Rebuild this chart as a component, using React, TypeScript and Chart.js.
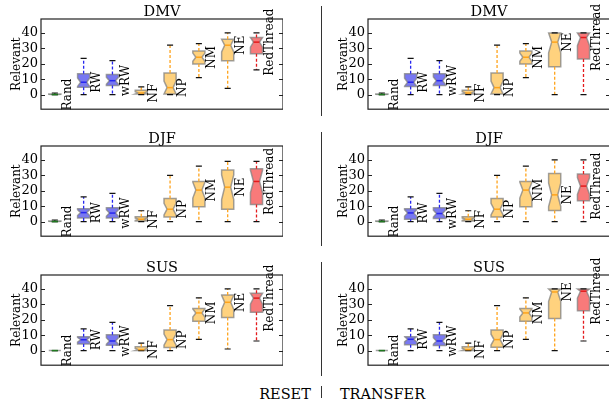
import React, { useEffect, useRef } from "react";
import { Chart, registerables } from "chart.js";
Chart.register(...registerables);

const FONT = '"DejaVu Serif", serif';

const categories = ["Rand", "RW", "wRW", "NF", "NP", "NM", "NE", "RedThread"];
const yTicks = [0, 10, 20, 30, 40];

// each entry: [min, q1, median, q3, max]
const dmvReset = [
  [0, 0, 0, 0.3, 1],
  [0, 4.8, 8, 13.5, 23.5],
  [0, 5.8, 9, 13, 22],
  [0, 0.3, 1, 2.8, 5],
  [0, 0.4, 4.5, 14, 32],
  [11, 19.8, 24.2, 28.3, 33],
  [4, 22, 32, 35.8, 40],
  [16, 26.5, 34, 37, 40],
];
const dmvTransfer = [
  [0, 0, 0, 0.3, 1],
  [0, 5.2, 8, 13.5, 23.5],
  [0, 5.8, 9, 13.5, 22],
  [0, 0.3, 1, 2.8, 5],
  [0, 0.4, 4.5, 14, 32],
  [11, 19.8, 24.2, 28.3, 33],
  [0, 18, 34, 40, 40],
  [0, 23, 37, 40, 40],
];
const djfReset = [
  [0, 0, 0, 0.3, 1],
  [0, 2.3, 5.8, 8.3, 16],
  [0, 2.3, 5.5, 9, 18.3],
  [0, 0.4, 1.5, 3.1, 7],
  [0, 3, 8, 15, 30],
  [0, 9.6, 20.4, 26, 36],
  [0, 8, 22.3, 33.5, 39],
  [0, 11, 26, 34.2, 39],
];
const djfTransfer = [
  [0, 0, 0, 0.3, 1],
  [0, 1.5, 5.6, 8.3, 16],
  [0, 2, 5.2, 9, 18.3],
  [0, 0.4, 1.5, 3.1, 7],
  [0, 3, 8, 15, 30],
  [0, 9.6, 20.4, 26, 36],
  [0, 7.1, 17.3, 31.2, 40],
  [0, 13.5, 23, 30.8, 40],
];
const susReset = [
  [0, 0, 0, 0, 0],
  [0, 4.2, 7, 9, 14],
  [0, 3.5, 6.2, 10.2, 18.3],
  [0, 0, 0.6, 2.5, 4.8],
  [0, 1.9, 7.1, 13.3, 29.2],
  [7.3, 19, 24.4, 27.3, 34.2],
  [1, 21.5, 31.3, 36, 40],
  [6.2, 24.8, 34, 37.1, 40],
];
const susTransfer = [
  [0, 0, 0, 0, 0],
  [0, 3.7, 7.3, 9, 14],
  [0, 3.3, 6.2, 10.2, 18.3],
  [0, 0, 0.6, 2.5, 4.8],
  [0, 2.1, 7.1, 13.3, 29.2],
  [7.3, 19, 24.4, 27.3, 34.2],
  [0, 20.8, 38, 40, 40],
  [6.2, 25.8, 38.5, 40, 40],
];

const fillColors = ["#2f8f2f", "#7878f2", "#7878f2", "#ffd27e", "#ffd27e", "#ffd27e", "#ffd27e", "#f87a7a"];
const lineColors = ["#1f7a1f", "#2626f0", "#2626f0", "#ffa41c", "#ffa41c", "#ffa41c", "#ffa41c", "#e41a1c"];

const BOX_W = 0.42;
const N_SAMPLES = 25;

function makeBoxPlugin(stats: number[][]) {
  return {
    id: "notchBox",
    afterDraw(chart: any) {
      const ctx = chart.ctx;
      const xs = chart.scales.x;
      const ys = chart.scales.y;
      const Y = (v: number) => ys.getPixelForValue(v);
      const a = chart.chartArea;
      ctx.save();
      stats.forEach((s, i) => {
        const [mn, q1, md, q3, mx] = s;
        const pos = i + 1;
        const xl = xs.getPixelForValue(pos - BOX_W / 2);
        const xr = xs.getPixelForValue(pos + BOX_W / 2);
        const xcl = xs.getPixelForValue(pos - BOX_W / 4);
        const xcr = xs.getPixelForValue(pos + BOX_W / 4);
        const xc = xs.getPixelForValue(pos);
        const half = (1.57 * (q3 - q1)) / Math.sqrt(N_SAMPLES);
        const nlo = Math.max(q1, md - half);
        const nhi = Math.min(q3, md + half);
        // box
        ctx.beginPath();
        ctx.moveTo(xl, Y(q1));
        ctx.lineTo(xr, Y(q1));
        ctx.lineTo(xr, Y(nlo));
        ctx.lineTo(xcr, Y(md));
        ctx.lineTo(xr, Y(nhi));
        ctx.lineTo(xr, Y(q3));
        ctx.lineTo(xl, Y(q3));
        ctx.lineTo(xl, Y(nhi));
        ctx.lineTo(xcl, Y(md));
        ctx.lineTo(xl, Y(nlo));
        ctx.closePath();
        ctx.fillStyle = fillColors[i];
        ctx.fill();
        ctx.lineWidth = 1.5;
        ctx.strokeStyle = "rgba(130,130,130,0.75)";
        ctx.setLineDash([]);
        ctx.stroke();
        // whiskers
        ctx.strokeStyle = lineColors[i];
        ctx.lineWidth = 1.3;
        ctx.setLineDash([3, 2]);
        ctx.beginPath();
        if (q1 > mn) {
          ctx.moveTo(xc, Y(q1));
          ctx.lineTo(xc, Y(mn));
        }
        if (mx > q3) {
          ctx.moveTo(xc, Y(q3));
          ctx.lineTo(xc, Y(mx));
        }
        ctx.stroke();
        // caps
        ctx.setLineDash([]);
        ctx.strokeStyle = "#111";
        ctx.lineWidth = 1.2;
        ctx.beginPath();
        ctx.moveTo(xcl, Y(mn));
        ctx.lineTo(xcr, Y(mn));
        ctx.moveTo(xcl, Y(mx));
        ctx.lineTo(xcr, Y(mx));
        ctx.stroke();
        // median
        ctx.strokeStyle = lineColors[i];
        ctx.lineWidth = 1.5;
        ctx.beginPath();
        ctx.moveTo(xcl, Y(md));
        ctx.lineTo(xcr, Y(md));
        ctx.stroke();
        // label
        ctx.save();
        ctx.translate(xs.getPixelForValue(pos + 0.56), Y(md));
        ctx.rotate(-Math.PI / 2);
        ctx.font = "12px " + FONT;
        ctx.fillStyle = "#000";
        ctx.textAlign = "center";
        ctx.textBaseline = "alphabetic";
        ctx.fillText(categories[i], 0, 0);
        ctx.restore();
      });
      // frame
      ctx.strokeStyle = "#222";
      ctx.lineWidth = 1.2;
      ctx.setLineDash([]);
      ctx.strokeRect(a.left, a.top, a.right - a.left, a.bottom - a.top);
      // inward ticks
      ctx.lineWidth = 1;
      ctx.beginPath();
      yTicks.forEach((t) => {
        const py = Math.round(Y(t)) + 0.5;
        ctx.moveTo(a.left, py);
        ctx.lineTo(a.left + 4, py);
        ctx.moveTo(a.right - 4, py);
        ctx.lineTo(a.right, py);
      });
      ctx.stroke();
      ctx.restore();
    },
  };
}

function Panel(props: { title: string; stats: number[][]; left: number; top: number }) {
  const ref = useRef<HTMLCanvasElement | null>(null);
  useEffect(() => {
    const canvas = ref.current;
    if (!canvas) return;
    const chart = new Chart(canvas, {
      type: "scatter",
      data: {
        datasets: [
          {
            data: props.stats.map((s, i) => ({ x: i + 1, y: s[2] })),
            pointRadius: 0,
            showLine: false,
          },
        ],
      },
      options: {
        animation: false,
        responsive: false,
        maintainAspectRatio: false,
        layout: { padding: { left: 0, right: 0, top: 0, bottom: 1 } },
        plugins: {
          legend: { display: false },
          tooltip: { enabled: false },
          title: {
            display: true,
            text: props.title,
            fullSize: false,
            color: "#000",
            font: { family: FONT, size: 14.5, weight: "normal", lineHeight: 1 },
            padding: { top: 4.5, bottom: 0 },
          },
        },
        scales: {
          x: { type: "linear", min: 0.52, max: 8.92, display: false },
          y: {
            type: "linear",
            min: -9.5,
            max: 49,
            afterFit: (s: any) => {
              s.width = 41;
            },
            afterBuildTicks: (s: any) => {
              s.ticks = yTicks.map((v) => ({ value: v }));
            },
            grid: { display: false, drawTicks: false },
            border: { display: false },
            ticks: { color: "#000", padding: 3, font: { family: FONT, size: 13 } },
            title: {
              display: true,
              text: "Relevant",
              color: "#000",
              font: { family: FONT, size: 12 },
              padding: { top: 10, bottom: 0 },
            },
          },
        },
      } as any,
      plugins: [makeBoxPlugin(props.stats)],
    });
    return () => chart.destroy();
  }, []);
  return (
    <canvas
      ref={ref}
      width={283}
      height={120}
      style={{ position: "absolute", left: props.left, top: props.top, width: 283, height: 120 }}
    />
  );
}

const rowTops = [0, 127, 256];
const dividerSegments = [
  [6, 116],
  [132, 246],
  [262, 376],
  [386, 398],
];

export default function App() {
  return (
    <div
      style={{
        position: "fixed",
        left: 0,
        top: 0,
        width: 609,
        height: 404,
        overflow: "hidden",
        background: "#fff",
      }}
    >
      <Panel title="DMV" stats={dmvReset} left={0} top={rowTops[0]} />
      <Panel title="DJF" stats={djfReset} left={0} top={rowTops[1]} />
      <Panel title="SUS" stats={susReset} left={0} top={rowTops[2]} />
      <Panel title="DMV" stats={dmvTransfer} left={327} top={rowTops[0]} />
      <Panel title="DJF" stats={djfTransfer} left={327} top={rowTops[1]} />
      <Panel title="SUS" stats={susTransfer} left={327} top={rowTops[2]} />
      {dividerSegments.map((seg, i) => (
        <div
          key={i}
          style={{
            position: "absolute",
            left: 321,
            top: seg[0],
            width: 1,
            height: seg[1] - seg[0],
            background: "#333",
          }}
        />
      ))}
      <div
        style={{
          position: "absolute",
          top: 386,
          left: 230,
          width: 111,
          textAlign: "center",
          fontFamily: FONT,
          fontSize: 14.5,
          lineHeight: "16px",
          color: "#000",
        }}
      >
        <span style={{ display: "inline-block", width: 111, textAlign: "center", marginLeft: -1 }}>RESET</span>
      </div>
      <div
        style={{
          position: "absolute",
          top: 386,
          left: 330,
          width: 105,
          textAlign: "center",
          fontFamily: FONT,
          fontSize: 14.5,
          lineHeight: "16px",
          color: "#000",
        }}
      >
        TRANSFER
      </div>
    </div>
  );
}
